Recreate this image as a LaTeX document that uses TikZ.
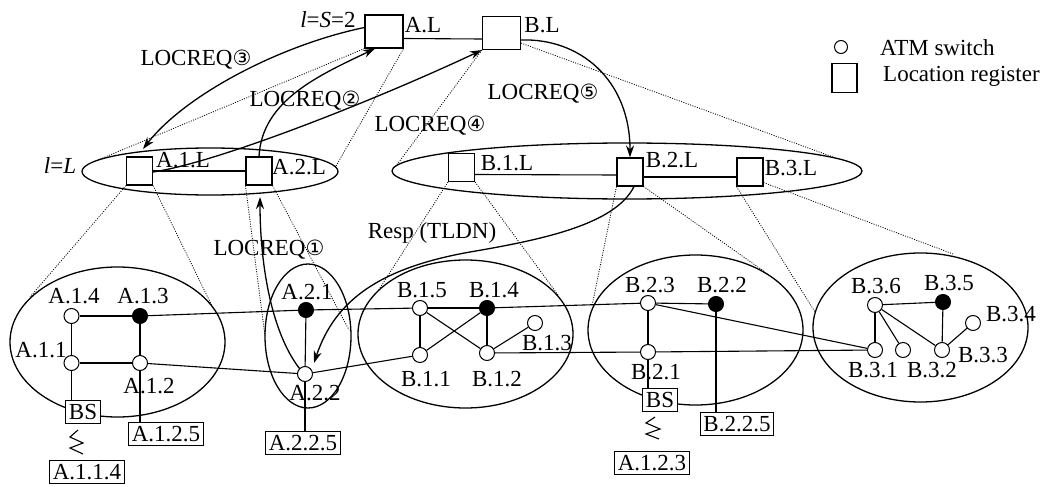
\documentclass[tikz,border=0pt]{standalone}
\usepackage{fontspec}
\setmainfont{Liberation Serif}
\newfontfamily\symfont{DejaVu Sans}
\usetikzlibrary{arrows.meta}
\newcommand{\circnum}[1]{{\symfont\fontsize{21}{24}\selectfont #1}}
\begin{document}
\begin{tikzpicture}[x=1pt,y=-1pt,
  font=\fontsize{23}{27}\selectfont,
  sw/.style={circle, draw, fill=white, minimum size=15pt, inner sep=0pt, line width=1pt},
  swf/.style={sw, fill=black},
  lr/.style={rectangle, draw, fill=white, minimum width=26pt, minimum height=28pt, inner sep=0pt, line width=1.1pt},
  lrbig/.style={lr, minimum width=38pt, minimum height=33pt},
  lbl/.style={inner sep=0pt},
  boxlbl/.style={draw, fill=white, inner xsep=3pt, inner ysep=3.5pt, line width=1pt},
  proj/.style={line width=0.8pt, dash pattern=on 1pt off 1.4pt},
  link/.style={line width=1.1pt},
  ell/.style={line width=1.3pt},
  req/.style={line width=1.3pt, -{Stealth[length=12pt,width=8pt]}}]
\useasboundingbox (0,0) rectangle (1050,487);
\fill[white] (0,0) rectangle (1050,487);

% ellipses
\draw[ell] (210,171.5) ellipse [x radius=128pt, y radius=23.5pt];
\draw[ell] (627,171) ellipse [x radius=235pt, y radius=28pt];
\draw[ell] (117.5,342) ellipse [x radius=107.5pt, y radius=75pt];
\draw[ell] (308,336) ellipse [x radius=43pt, y radius=72pt];
\draw[ell] (465.5,334) ellipse [x radius=107.5pt, y radius=74pt];
\draw[ell] (695.5,330) ellipse [x radius=107.5pt, y radius=75pt];
\draw[ell] (920.5,327.5) ellipse [x radius=107.5pt, y radius=74.5pt];

% location registers
\node[lrbig] (aL) at (384,31.5) {};
\node[lrbig] (bL) at (501.5,33) {};
\node[lr] (a1L) at (139.5,171) {};
\node[lr] (a2L) at (259,171) {};
\node[lr] (b1L) at (461.5,167.5) {};
\node[lr] (b2L) at (630,172) {};
\node[lr] (b3L) at (750,172) {};

% switches
\node[sw] (a14) at (71.5,316) {};
\node[swf] (a13) at (140,316) {};
\node[sw] (a11) at (71.5,363) {};
\node[sw] (a12) at (140,363) {};
\node[swf] (a21) at (306,310) {};
\node[sw] (a22) at (305,374) {};
\node[sw] (b15) at (420,308) {};
\node[swf] (b14) at (487,308) {};
\node[sw] (b11) at (420,355) {};
\node[sw] (b12) at (487,353) {};
\node[sw] (b13) at (535,323) {};
\node[sw] (b23) at (648,303) {};
\node[swf] (b22) at (716,304) {};
\node[sw] (b21) at (648,352) {};
\node[sw] (b36) at (875,305) {};
\node[swf] (b35) at (943,302) {};
\node[sw] (b34) at (973,323) {};
\node[sw] (b31) at (875,350) {};
\node[sw] (b32) at (903,350) {};
\node[sw] (b33) at (942,350) {};

% boxes
\node[boxlbl] (bsA) at (83,412) {BS};
\node[boxlbl] (a114) at (87,472) {A.1.1.4};
\node[boxlbl] (a125) at (166,434) {A.1.2.5};
\node[boxlbl] (a225) at (303,443) {A.2.2.5};
\node[boxlbl] (bsB) at (660,400) {BS};
\node[boxlbl] (a123) at (652,463) {A.1.2.3};
\node[boxlbl] (b225) at (737,424) {B.2.2.5};

% register links
\draw[link] ([yshift=-7pt]aL.east) -- ([yshift=-6pt]bL.west);
\draw[link] (a1L) -- (a2L);
\draw[link] ([yshift=-7pt]b1L.east) -- ([yshift=-3pt]b2L.west);
\draw[link] ([yshift=-5pt]b2L.east) -- ([yshift=-5pt]b3L.west);

% switch links
\draw[link] (a14) -- (a13);
\draw[link] (a14) -- (a11);
\draw[link] (a13) -- (a12);
\draw[link] (a11) -- (a12);
\draw[link] (a13) -- (a21);
\draw[link] (a21) -- (b15);
\draw[link] (a12) -- (a22);
\draw[link] (a22) -- (b11);
\draw[link] (a21) -- (a22);
\draw[link] (b15) -- (b14);
\draw[link] (b15) -- (b11);
\draw[link] (b15) -- (b12);
\draw[link] (b14) -- (b11);
\draw[link] (b14) -- (b12);
\draw[link] (b12) -- (b13);
\draw[link] (b14) -- (b23);
\draw[link] (b12) -- (b21);
\draw[link] (b23) -- (b22);
\draw[link] (b23) -- (b21);
\draw[link] (b23) -- (b31);
\draw[link] (b21) -- (b31);
\draw[link] (b36) -- (b35);
\draw[link] (b36) -- (b31);
\draw[link] (b36) -- (b32);
\draw[link] (b36) -- (b33);
\draw[link] (b35) -- (b33);
\draw[link] (b33) -- (b34);
\draw[link] (a11) -- (a11 |- bsA.north);
\draw[link] (a12) -- (a12 |- a125.north);
\draw[link] (a22) -- (a22 |- a225.north);
\draw[link] (b21) -- (b21 |- bsB.north);
\draw[link] (b22) -- (b22 |- b225.north);

% wireless symbols
\draw[link, line join=miter] (78,430) -- (70,437) -- (83,443) -- (70,448) -- (83,454);
\draw[link, line join=miter] (655,417) -- (646,423) -- (660,429) -- (646,434) -- (659,439);

% projection lines
\coordinate (pA1) at (98,160);
\coordinate (pA2) at (336,166);
\coordinate (pB1) at (396,166);
\coordinate (pB2) at (833,157);
\coordinate (q1) at (30,297);
\coordinate (q2) at (213,308);
\coordinate (q3) at (265,336);
\coordinate (q4) at (349,330);
\coordinate (q5) at (378,291);
\coordinate (q6) at (558,295);
\coordinate (q7) at (592,306);
\coordinate (q8) at (765,272);
\coordinate (q9) at (815,312);
\coordinate (q10) at (953,254);
\draw[proj] (aL.south west) -- (pA1);
\draw[proj] (aL.south east) -- (pA2);
\draw[proj] (bL.south west) -- (pB1);
\draw[proj] ([yshift=7pt]bL.south east) -- (pB2);
\draw[proj] (a1L.south west) -- (q1);
\draw[proj] (a1L.south east) -- (q2);
\draw[proj] (a2L.south west) -- (q3);
\draw[proj] (a2L.south east) -- (q4);
\draw[proj] (b1L.south west) -- (q5);
\draw[proj] (b1L.south east) -- (q6);
\draw[proj] (b2L.south west) -- (q7);
\draw[proj] (b2L.south east) -- (q8);
\draw[proj] (b3L.south west) -- (q9);
\draw[proj] ([yshift=4pt]b3L.south east) -- (q10);

% requests
\coordinate (e3) at (143,149);
\coordinate (e1) at (260,197);
\coordinate (eR) at (314,363);
\draw[req] ([yshift=4pt]aL.west) .. controls (280,45) and (185,95) .. (e3);
\draw[req] (a2L.north) .. controls (262,100) and (320,75) .. ([xshift=-9pt]aL.south);
\draw[req] ([yshift=-1pt]a1L.east) .. controls (220,162) and (380,98) .. (bL.south west);
\draw[req] ([yshift=-7pt]bL.east) .. controls (580,38) and (630,80) .. (b2L.north);
\draw[req] (a22.north west) .. controls (270,330) and (260,260) .. (e1);
\draw[req] ([xshift=4pt]b2L.south) .. controls (615,225) and (540,240) .. (470,252) .. controls (380,268) and (335,300) .. (eR);

% labels
\node[lbl] (tS) at (328,20) {\textit{l}=\textit{S}=2};
\node[lbl] (tL) at (60,166) {\textit{l}=\textit{L}};
\node[lbl] (tAL) at (423,25) {A.L};
\node[lbl] (tBL) at (542,25) {B.L};
\node[lbl] (ta1L) at (183,160) {A.1.L};
\node[lbl] (ta2L) at (299,167) {A.2.L};
\node[lbl] (tb1L) at (507,163) {B.1.L};
\node[lbl] (tb2L) at (672,160) {B.2.L};
\node[lbl] (tb3L) at (791,168) {B.3.L};

\node[lbl] (r3) at (196,60) {LOCREQ\circnum{③}};
\node[lbl] (r2) at (305,101) {LOCREQ\circnum{②}};
\node[lbl] (r4) at (430,126) {LOCREQ\circnum{④}};
\node[lbl] (r5) at (543,94) {LOCREQ\circnum{⑤}};
\node[lbl] (r1) at (269,250) {LOCREQ\circnum{①}};
\node[lbl] (rr) at (432,233) {Resp (TLDN)};

\node[lbl] (la14) at (74,296) {A.1.4};
\node[lbl] (la13) at (143,296) {A.1.3};
\node[lbl] (la11) at (41,350) {A.1.1};
\node[lbl] (la12) at (149,386) {A.1.2};
\node[lbl] (la21) at (307,292) {A.2.1};
\node[lbl] (la22) at (315,393) {A.2.2};
\node[lbl] (lb15) at (422,290) {B.1.5};
\node[lbl] (lb14) at (494,290) {B.1.4};
\node[lbl] (lb11) at (426,379) {B.1.1};
\node[lbl] (lb12) at (497,379) {B.1.2};
\node[lbl] (lb13) at (547,343) {B.1.3};
\node[lbl] (lb23) at (650,285) {B.2.3};
\node[lbl] (lb22) at (722,285) {B.2.2};
\node[lbl] (lb21) at (656,372) {B.2.1};
\node[lbl] (lb36) at (876,286) {B.3.6};
\node[lbl] (lb35) at (949,283) {B.3.5};
\node[lbl] (lb34) at (1011,314) {B.3.4};
\node[lbl] (lb31) at (873,370) {B.3.1};
\node[lbl] (lb32) at (932,370) {B.3.2};
\node[lbl] (lb33) at (983,355) {B.3.3};

% legend
\node[sw, minimum size=13pt] (legc) at (841,47) {};
\node[lr, minimum width=25pt, minimum height=29pt] (legs) at (844.5,78) {};
\node[lbl, anchor=west] (legct) at (880,48) {ATM switch};
\node[lbl, anchor=west] (legst) at (883,76) {Location register};
\end{tikzpicture}
\end{document}
